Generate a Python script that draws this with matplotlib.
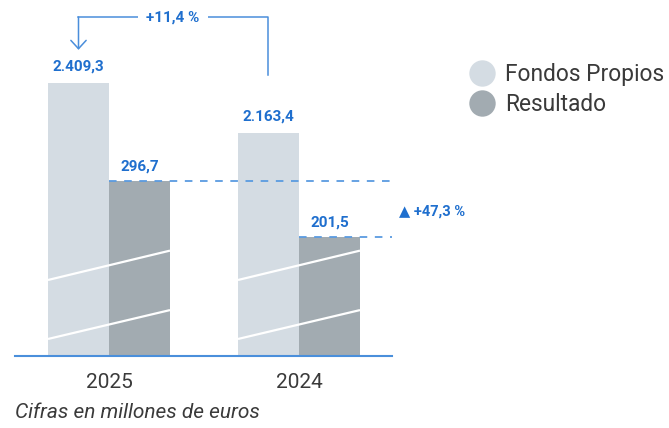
import numpy as np
import matplotlib
matplotlib.use("Agg")
import matplotlib.pyplot as plt
from matplotlib.lines import Line2D

plt.rcParams['font.family'] = ['Roboto', 'DejaVu Sans']

# ---- data ----
years = ["2025", "2024"]
fondos_propios = [2409.3, 2163.4]
resultado = [296.7, 201.5]
fp_labels = ["2.409,3", "2.163,4"]
res_labels = ["296,7", "201,5"]
fp_change = "+11,4 %"
res_change = "+47,3 %"
series_names = ["Fondos Propios", "Resultado"]
note = "Cifras en millones de euros"

# ---- styles ----
C_FP = "#d4dce3"
C_RES = "#a2abb1"
C_BLUE_TXT = "#1f6fce"
C_BLUE_LINE = "#4a8edb"
C_DASH = "#5a9be0"
C_TEXT = "#3a3a3a"

# broken-axis scale (piecewise linear)
VK = np.array([0.0, 300.0, 2000.0, 3000.0])
DK = np.array([0.0, 177.0, 190.1, 393.4])
def fwd(v):
    return np.interp(v, VK, DK)
def inv(d):
    return np.interp(d, DK, VK)

W, H = 669, 428
fig = plt.figure(figsize=(W / 100, H / 100), dpi=100)
ax_left, ax_right, ax_bottom, ax_top = 15, 392, 356, 0
ax = fig.add_axes([ax_left / W, (H - ax_bottom) / H, (ax_right - ax_left) / W, (ax_bottom - ax_top) / H])
ax.set_yscale('function', functions=(fwd, inv))

x = np.arange(len(years))
bw = 0.321
ax.bar(x - bw / 2, fondos_propios, width=bw, color=C_FP, zorder=2)
ax.bar(x + bw / 2, resultado, width=bw, color=C_RES, zorder=2)

ax.set_xlim(-0.4947, 1.4895)
ax.set_ylim(0, float(inv(356)))

for s in ['top', 'left', 'right']:
    ax.spines[s].set_visible(False)
ax.spines['bottom'].set_color("#4a8fdb")
ax.spines['bottom'].set_linewidth(1.5)
ax.spines['bottom'].set_zorder(5)
ax.set_yticks([])
ax.set_xticks(x)
ax.set_xticklabels(years, fontsize=15, color=C_TEXT, fontweight='normal')
ax.tick_params(axis='x', length=0, pad=12.5)

# break marks (white diagonal lines)
xt = ax.get_xaxis_transform()
for xi in x:
    for y0, y1 in [(0.2135, 0.296), (0.0478, 0.129)]:
        ax.plot([xi - bw, xi + bw], [y0, y1], transform=xt, color='white', lw=1.6, zorder=3,
                solid_capstyle='butt')

# value labels
for xi, v, lab in zip(x, fondos_propios, fp_labels):
    ax.annotate(lab, (xi - bw / 2, v), xytext=(0, 11.3), textcoords='offset points',
                ha='center', va='center', fontsize=11, fontweight='bold', color=C_BLUE_TXT)
for xi, v, lab in zip(x, resultado, res_labels):
    ax.annotate(lab, (xi + bw / 2, v), xytext=(0, 10.5), textcoords='offset points',
                ha='center', va='center', fontsize=11, fontweight='bold', color=C_BLUE_TXT)

# dashed comparison lines for Resultado
dash = (0, (4.2, 4.2))
ax.plot([x[0], ax.get_xlim()[1]], [resultado[0], resultado[0]], color=C_DASH, lw=1.3,
        ls=dash, zorder=4, clip_on=False)
ax.plot([x[1], ax.get_xlim()[1]], [resultado[1], resultado[1]], color=C_DASH, lw=1.3,
        ls=dash, zorder=4, clip_on=False)

# Resultado change label
ymid = float(inv((fwd(resultado[0]) + fwd(resultado[1])) / 2))
ax.annotate("\u25B2 " + res_change, (1.0, ymid), xycoords=('axes fraction', 'data'),
            xytext=(5, -1.5), textcoords='offset points', ha='left', va='center',
            fontsize=10.5, fontweight='bold', color=C_BLUE_TXT, annotation_clip=False)

# Fondos Propios change bracket
x_fp24 = x[1] - bw / 2
x_fp25 = x[0] - bw / 2
y_top = 0.952
ax.plot([x_fp24, x_fp24, x_fp25], [0.789, y_top, y_top], transform=xt, color=C_BLUE_LINE,
        lw=1.1, clip_on=False, zorder=4)
ax.annotate("", xy=(x_fp25, 0.86), xytext=(x_fp25, y_top), xycoords=xt, textcoords=xt,
            arrowprops=dict(arrowstyle='->,head_length=0.6,head_width=0.55', color=C_BLUE_LINE,
                            lw=1.1, shrinkA=0, shrinkB=0, mutation_scale=10),
            annotation_clip=False)
ax.text(0.337, y_top, fp_change, transform=xt, ha='center', va='center', fontsize=11,
        fontweight='bold', color=C_BLUE_TXT, zorder=5,
        bbox=dict(boxstyle='square,pad=0.55', fc='white', ec='none'))

# legend
handles = [Line2D([], [], marker='o', ls='', ms=19, color=c, mec='none') for c in (C_FP, C_RES)]
fig.legend(handles, series_names, loc='upper left', bbox_to_anchor=(468 / W, 1 - 63 / H),
           frameon=False, fontsize=16.4, labelcolor=C_TEXT, handletextpad=0.41,
           labelspacing=0.3, borderpad=0, borderaxespad=0, handlelength=1.2)

fig.text(15 / W, 1 - 413 / H, note, fontsize=15, style='italic', color=C_TEXT, ha='left',
         va='center', fontweight='normal')

fig.savefig("out.png", dpi=100)
